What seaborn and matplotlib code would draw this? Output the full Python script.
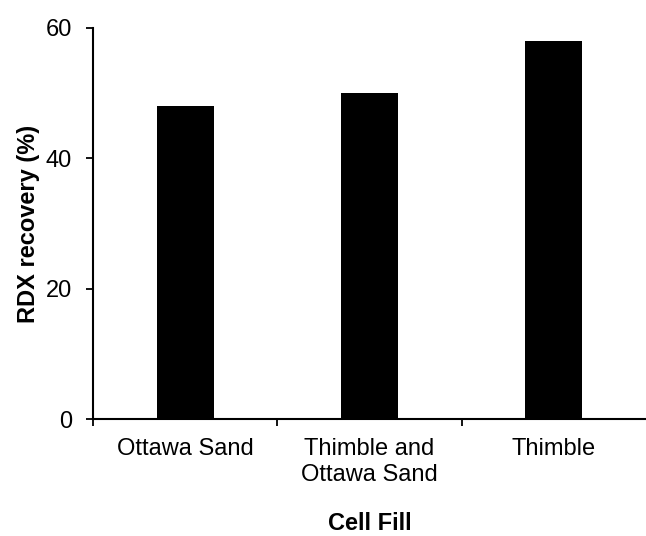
import pandas as pd
import matplotlib.pyplot as plt
import seaborn as sns
from matplotlib.ticker import FixedLocator

sns.set_style("white")
plt.rcParams["font.family"] = ["Liberation Sans", "DejaVu Sans"]
plt.rcParams["text.color"] = "black"
plt.rcParams["axes.labelcolor"] = "black"
plt.rcParams["xtick.color"] = "black"
plt.rcParams["ytick.color"] = "black"

cell_fill = ["Ottawa Sand", "Thimble and\nOttawa Sand", "Thimble"]
rdx_recovery = [48, 50, 58]
y_ticks = [0, 20, 40, 60]

df = pd.DataFrame({"Cell Fill": cell_fill, "RDX recovery (%)": rdx_recovery})

fig = plt.figure(figsize=(6.46, 5.36), dpi=100)
ax = fig.add_axes([93 / 646, 117 / 536, 553 / 646, 391 / 536])

sns.barplot(data=df, x="Cell Fill", y="RDX recovery (%)", color="black",
            width=0.31, saturation=1, ax=ax, edgecolor="black", linewidth=0)

ax.set_xlim(-0.5, 2.5)
ax.set_ylim(0, 60)
ax.set_yticks(y_ticks)
# ticks between categories, like the original
ax.xaxis.set_minor_locator(FixedLocator([-0.5, 0.5, 1.5]))

for side in ["top", "right"]:
    ax.spines[side].set_visible(False)
for side in ["left", "bottom"]:
    ax.spines[side].set_linewidth(1.5)
    ax.spines[side].set_color("black")

ax.tick_params(axis="y", which="major", direction="out", length=5, width=1.3,
               left=True, labelsize=17, pad=10)
ax.tick_params(axis="x", which="major", length=0, labelsize=17, pad=14)
ax.tick_params(axis="x", which="minor", direction="out", length=5, width=1.3,
               bottom=True)

ax.set_xlabel("Cell Fill", fontsize=17, fontweight="bold", labelpad=19)
ax.set_ylabel("RDX recovery (%)", fontsize=17, fontweight="bold", labelpad=4)
ax.grid(False)

fig.savefig("out.png", dpi=100)
